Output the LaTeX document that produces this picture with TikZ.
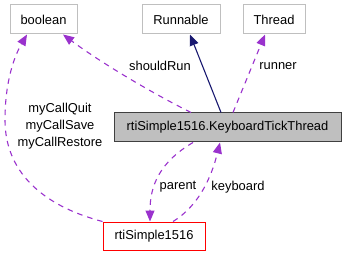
\documentclass[tikz,border=0pt]{standalone}
\usepackage{fontspec}
\setmainfont{Liberation Sans}
\usepackage{xcolor}
\usepackage{tikz}
\usetikzlibrary{arrows.meta,positioning}

\definecolor{usecol}{HTML}{9A32CD}
\definecolor{inhcol}{HTML}{191970}
\definecolor{boxgray}{HTML}{BFBFBF}

\begin{document}
\begin{tikzpicture}[x=1pt, y=-1pt,
  box/.style={draw=boxgray, rectangle, minimum height=29pt, inner sep=0pt,
    font=\fontsize{12.9}{15}\selectfont, line width=1pt},
  main/.style={box, draw=black!75, fill=boxgray},
  owner/.style={box, draw=red},
  uses/.style={draw=usecol, dashed, dash pattern=on 5.5pt off 5pt, line width=1.1pt,
    -{Triangle[length=11pt, width=9pt]}},
  inherits/.style={draw=inhcol, line width=1.1pt, -{Triangle[length=11pt, width=9pt]}},
  lbl/.style={font=\fontsize{12.9}{17}\selectfont, align=center, inner sep=0pt}]
  \useasboundingbox (0,0) rectangle (344,256);
  \node[box, minimum width=67pt] (bool) at (43.5,19.5) {boolean};
  \node[box, minimum width=78pt] (runnable) at (181,19.5) {Runnable};
  \node[box, minimum width=62pt] (thread) at (274,19.5) {Thread};
  \node[main, minimum width=227pt] (ktt) at (227.5,127.5) {rtiSimple1516.KeyboardTickThread};
  \node[owner, minimum width=102pt, minimum height=28pt] (rti) at (154,236) {rtiSimple1516};
  % edges
  \draw[inherits] (ktt.north -| 221,0) -- (runnable.south -| 190,0);
  \draw[uses] (ktt.north -| 233,0) -- (thread.south -| 265,0);
  \draw[uses] (ktt.north -| 191,0) .. controls (150,92) and (100,62) .. (bool.south -| 63,0);
  \draw[uses] (rti.north west) .. controls (40,205) and (5,170) .. (5,120)
    .. controls (5,80) and (15,55) .. (bool.south -| 27,0);
  \draw[uses] (ktt.south -| 193,0) .. controls (160,162) and (150,185) .. (rti.north -| 150,0);
  \draw[uses] (rti.north -| 173,0) .. controls (200,205) and (212,175) .. (ktt.south -| 220,0);
  % labels
  \node[lbl] (shouldrun) at (160,66) {shouldRun};
  \node[lbl] (runner) at (278,66) {runner};
  \node[lbl] (mycalls) at (60,126) {myCallQuit\\myCallSave\\myCallRestore};
  \node[lbl] (parent) at (178,187) {parent};
  \node[lbl] (keyboard) at (238,187) {keyboard};
\end{tikzpicture}
\end{document}
